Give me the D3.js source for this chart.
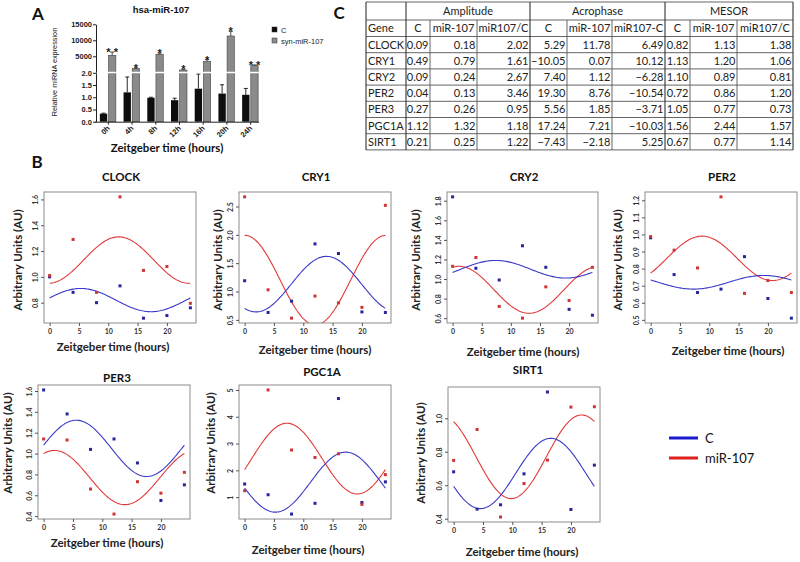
<!DOCTYPE html>
<html><head><meta charset="utf-8">
<script src="https://cdn.jsdelivr.net/npm/d3@7"></script>
<style>body{margin:0;background:#fff} svg{display:block}</style>
</head><body>
<svg id="c" width="800" height="562"></svg>
<script>
// ---------------- Panel A data ----------------
const timeLabels = ['0h','4h','8h','12h','16h','20h','24h'];
const ctrlMean = [0.33, 1.20, 0.98, 0.88, 1.35, 1.15, 1.10];
const ctrlErrTop = [0.35, 1.83, 1.00, 0.96, 1.95, 1.51, 1.36];
const synMean = [5310, 1150, 5620, 720, 3440, 11340, 2090];
const synErrTop = [6340, 1340, 6000, 940, 3970, 12800, 2300];
const sigStars = ['* *', '*', '*', '*', '*', '*', '* *'];
const lowTicks = [0, 0.5, 1.0, 1.5, 2.0];
const highTicks = [5000, 10000, 15000];
const seriesA = ['C', 'syn-miR-107'];

// ---------------- Panel C (table) data ----------------
const genes = ['CLOCK','CRY1','CRY2','PER2','PER3','PGC1A','SIRT1'];
const ampC = [0.09, 0.49, 0.09, 0.04, 0.27, 1.12, 0.21];
const ampMiR = [0.18, 0.79, 0.24, 0.13, 0.26, 1.32, 0.25];
const ampRatio = [2.02, 1.61, 2.67, 3.46, 0.95, 1.18, 1.22];
const acroC = [5.29, -10.05, 7.40, 19.30, 5.56, 17.24, -7.43];
const acroMiR = [11.78, 0.07, 1.12, 8.76, 1.85, 7.21, -2.18];
const acroDiff = [6.49, 10.12, -6.28, -10.54, -3.71, -10.03, 5.25];
const mesorC = [0.82, 1.13, 1.10, 0.72, 1.05, 1.56, 0.67];
const mesorMiR = [1.13, 1.20, 0.89, 0.86, 0.77, 2.44, 0.77];
const mesorRatio = [1.38, 1.06, 0.81, 1.20, 0.73, 1.57, 1.14];
const groupHeads = ['Amplitude', 'Acrophase', 'MESOR'];
const subHeads = ['Gene','C','miR-107','miR107/C','C','miR-107','miR107-C','C','miR-107','miR107/C'];

// ---------------- Panel B data (observed points) ----------------
const zt = [0, 4, 8, 12, 16, 20, 24];
const obsC = [
  [1.00, 0.88, 0.80, 0.93, 0.68, 0.70, 0.76],   // CLOCK
  [1.19, 0.63, 0.83, 1.84, 1.67, 0.64, 0.63],   // CRY1
  [1.84, 1.11, 0.99, 1.34, 1.12, 0.69, 0.63],   // CRY2
  [0.98, 0.765, 0.66, 0.68, 0.87, 0.625, 0.51], // PER2
  [1.61, 1.38, 1.04, 1.14, 0.91, 0.55, 0.70],   // PER3
  [1.49, 1.09, 0.37, 0.77, 4.68, 0.80, 1.57],   // PGC1A
  [0.68, 0.457, 0.483, 0.668, 1.157, 0.455, 0.72] // SIRT1
];
const obsMiR = [
  [1.01, 1.29, 0.88, 1.62, 1.05, 1.08, 0.795],
  [2.67, 1.03, 0.53, 0.92, 0.80, 0.72, 2.52],
  [1.13, 1.22, 0.72, 0.60, 0.92, 0.78, 1.12],
  [0.987, 0.908, 0.804, 1.22, 0.655, 0.73, 0.66],
  [1.14, 1.13, 0.66, 0.42, 0.73, 0.62, 0.82],
  [1.24, 5.00, 2.76, 2.48, 2.62, 0.73, 1.84],
  [0.748, 0.933, 0.41, 0.61, 0.75, 1.067, 1.069]
];
const yTickVals = [
  [0.8, 1.0, 1.2, 1.4, 1.6],
  [0.5, 1.0, 1.5, 2.0, 2.5],
  [0.6, 0.8, 1.0, 1.2, 1.4, 1.6, 1.8],
  [0.5, 0.6, 0.7, 0.8, 0.9, 1.0, 1.1, 1.2],
  [0.4, 0.6, 0.8, 1.0, 1.2, 1.4, 1.6],
  [1, 2, 3, 4, 5],
  [0.4, 0.6, 0.8, 1.0]
];
const yTickFmt = ['.1f','.1f','.1f','.1f','.1f','d','.1f'];
const xTickVals = [0, 5, 10, 15, 20];
const legendLabels = ['C', 'miR-107'];

// ---------------- layout ----------------
const svg = d3.select('#c');
const BLUE_PT = '#25259c', RED_PT = '#cf3535', BLUE_LN = '#3a3ac8', RED_LN = '#e23a3a';
const FONT_B = 'Lato, "Open Sans", sans-serif';
const FONT_A = '"Liberation Sans", Arial, sans-serif';

// Panel letters
[['A', 38, 20], ['B', 37, 168], ['C', 339, 19]].forEach(([t, x, y]) =>
  svg.append('text').attr('x', x).attr('y', y).attr('text-anchor', 'middle')
    .style('font', `bold 17px ${FONT_B}`).attr('fill', '#111').text(t));

// ================= Panel A =================
(function () {
  const g = svg.append('g');
  const x = d3.scalePoint().domain(timeLabels).range([96, 262]).padding(0.5);
  const sub = d3.scaleBand().domain(seriesA).range([-8, 8]).paddingInner(0.15);
  const yLo = d3.scaleLinear().domain([0, 2]).range([121.7, 72.8]);
  const yHi = d3.scaleLinear().domain([0, 15000]).range([72.3, 24.3]);
  const base = yLo(0);

  timeLabels.forEach((t, i) => {
    const cx = x(t);
    const bx = cx + sub('C');
    g.append('rect').attr('x', bx).attr('y', yLo(ctrlMean[i])).attr('width', sub.bandwidth())
      .attr('height', base - yLo(ctrlMean[i])).attr('fill', '#0d0d0d');
    const ex = bx + sub.bandwidth() / 2;
    g.append('line').attr('x1', ex).attr('x2', ex).attr('y1', yLo(ctrlMean[i])).attr('y2', yLo(ctrlErrTop[i])).attr('stroke', '#111').attr('stroke-width', 0.9);
    g.append('line').attr('x1', ex - 2).attr('x2', ex + 2).attr('y1', yLo(ctrlErrTop[i])).attr('y2', yLo(ctrlErrTop[i])).attr('stroke', '#111').attr('stroke-width', 0.9);
    const gx = cx + sub('syn-miR-107');
    g.append('rect').attr('x', gx).attr('y', yHi(synMean[i])).attr('width', sub.bandwidth())
      .attr('height', base - yHi(synMean[i])).attr('fill', '#8a8a8a').attr('stroke', '#444').attr('stroke-width', 0.6);
    const gex = gx + sub.bandwidth() / 2;
    g.append('line').attr('x1', gex).attr('x2', gex).attr('y1', yHi(synMean[i])).attr('y2', yHi(synErrTop[i])).attr('stroke', '#333').attr('stroke-width', 0.9);
    g.append('line').attr('x1', gex - 2).attr('x2', gex + 2).attr('y1', yHi(synErrTop[i])).attr('y2', yHi(synErrTop[i])).attr('stroke', '#333').attr('stroke-width', 0.9);
    g.append('text').attr('x', gex).attr('y', yHi(synErrTop[i]) + 4).attr('text-anchor', 'middle')
      .style('font', `bold 11px ${FONT_A}`).attr('fill', '#222').text(sigStars[i]);
  });

  g.append('line').attr('x1', 92).attr('x2', 262).attr('y1', 72.5).attr('y2', 72.5).attr('stroke', '#fff').attr('stroke-width', 1.4);

  const axL = g.append('g').attr('transform', 'translate(96,0)')
    .call(d3.axisLeft(yLo).tickValues(lowTicks).tickFormat(d3.format('.1f')).tickSize(3).tickSizeOuter(0));
  const axH = g.append('g').attr('transform', 'translate(96,0)')
    .call(d3.axisLeft(yHi).tickValues(highTicks).tickFormat(d3.format('d')).tickSize(3).tickSizeOuter(0));
  [axL, axH].forEach(a => {
    a.selectAll('path').attr('stroke', '#222');
    a.selectAll('line').attr('stroke', '#222');
    a.selectAll('text').style('font', `bold 7.5px ${FONT_A}`).attr('fill', '#222').attr('x', -4);
  });
  const axX = g.append('g').attr('transform', `translate(0,${base})`)
    .call(d3.axisBottom(x).tickSize(3).tickSizeOuter(0));
  axX.select('path').attr('d', `M95,0.5H259`).attr('stroke', '#222');
  axX.selectAll('line').attr('stroke', '#222');
  axX.selectAll('text').attr('text-anchor', 'end').attr('dy', 0).attr('y', 0)
    .attr('transform', 'translate(2,7) rotate(-45)')
    .style('font', `bold 7.5px ${FONT_A}`).attr('fill', '#222');

  g.append('text').attr('x', 161).attr('y', 13).attr('text-anchor', 'middle')
    .style('font', `bold 9.5px ${FONT_A}`).attr('fill', '#111').text('hsa-miR-107');
  g.append('text').attr('transform', 'translate(57,72) rotate(-90)').attr('text-anchor', 'middle')
    .style('font', `7.3px ${FONT_A}`).attr('fill', '#111').text('Relative miRNA expression');
  g.append('text').attr('x', 167).attr('y', 152).attr('text-anchor', 'middle')
    .style('font', `bold 11.5px ${FONT_B}`).attr('fill', '#111').text('Zeitgeber time (hours)');

  const leg = g.append('g');
  seriesA.forEach((s, i) => {
    leg.append('rect').attr('x', 272).attr('y', 27 + i * 11).attr('width', 5).attr('height', 5)
      .attr('fill', i ? '#8a8a8a' : '#0d0d0d').attr('stroke', '#333').attr('stroke-width', 0.5);
    leg.append('text').attr('x', 281).attr('y', 32.5 + i * 11).style('font', `7.5px ${FONT_A}`).attr('fill', '#222').text(s);
  });
})();

// ================= Panel C (table) =================
(function () {
  const g = svg.append('g');
  const colX = [366, 406, 430, 477, 530, 567, 612, 665, 690, 737, 793];
  const rowY = [2, 20, 36.5];
  genes.forEach((d, i) => rowY.push(36.5 + (i + 1) * 16.2));
  const tableCols = [null, ampC, ampMiR, ampRatio, acroC, acroMiR, acroDiff, mesorC, mesorMiR, mesorRatio];
  const fmt = d3.format('.2f');
  const stroke = '#555';
  const FS = `11px ${FONT_B}`;
  const top = rowY[0], bot = rowY[rowY.length - 1];
  rowY.forEach((y, i) => g.append('line').attr('x1', colX[0]).attr('x2', colX[10]).attr('y1', y).attr('y2', y)
    .attr('stroke', stroke).attr('stroke-width', 0.9));
  colX.forEach((x, i) => {
    const groupEdge = [0, 1, 4, 7, 10].includes(i);
    g.append('line').attr('x1', x).attr('x2', x).attr('y1', groupEdge ? top : rowY[1]).attr('y2', bot)
      .attr('stroke', groupEdge ? '#333' : stroke).attr('stroke-width', groupEdge ? 1.1 : 0.9);
  });
  groupHeads.forEach((h, i) => {
    const x0 = colX[1 + i * 3], x1 = colX[4 + i * 3];
    g.append('text').attr('x', (x0 + x1) / 2).attr('y', 15).attr('text-anchor', 'middle')
      .style('font', FS).attr('fill', '#222').text(h);
  });
  subHeads.forEach((h, i) => {
    const t = g.append('text').attr('y', rowY[1] + 12).style('font', FS).attr('fill', '#222').text(h);
    if (i === 0) t.attr('x', colX[0] + 2);
    else t.attr('x', (colX[i] + colX[i + 1]) / 2).attr('text-anchor', 'middle');
  });
  genes.forEach((gname, r) => {
    const y = rowY[2 + r] + 12;
    g.append('text').attr('x', colX[0] + 2).attr('y', y).style('font', FS).attr('fill', '#222').text(gname);
    for (let c = 1; c < 10; c++) {
      g.append('text').attr('x', colX[c + 1] - 1.5).attr('y', y).attr('text-anchor', 'end')
        .style('font', FS).attr('fill', '#222').text(fmt(tableCols[c][r]));
    }
  });
})();

// ================= Panel B =================
const panels = [
  { x0: 44,  x1: 196, y0: 192, y1: 323, tx: 121, ty: 181, lx: 17,  ly: 260, ax: 113, ay: 351 },
  { x0: 239, x1: 391, y0: 192, y1: 323, tx: 316, ty: 181, lx: 217, ly: 260, ax: 315, ay: 354 },
  { x0: 447, x1: 598, y0: 192, y1: 323, tx: 524, ty: 181, lx: 415, ly: 260, ax: 523, ay: 356 },
  { x0: 645, x1: 797, y0: 192, y1: 323, tx: 722, ty: 181, lx: 617, ly: 260, ax: 728, ay: 355 },
  { x0: 38,  x1: 190, y0: 385, y1: 519, tx: 117, ty: 382, lx: 7,   ly: 443, ax: 107, ay: 547 },
  { x0: 239, x1: 391, y0: 385, y1: 519, tx: 322, ty: 376, lx: 210, ly: 443, ax: 308, ay: 554 },
  { x0: 448, x1: 600, y0: 387, y1: 522, tx: 528, ty: 374, lx: 420, ly: 453, ax: 522, ay: 556 }
];
const curveGrid = d3.range(0, 24.001, 0.2);
function cosinor(mesor, amp, acro) {
  return t => mesor + amp * Math.cos(2 * Math.PI * (t - acro) / 24);
}
genes.forEach((gene, i) => {
  const p = panels[i];
  const g = svg.append('g');
  const x = d3.scaleLinear().domain([-0.96, 24.96]).range([p.x0, p.x1]);
  const ext = d3.extent(obsC[i].concat(obsMiR[i]));
  const pad = (ext[1] - ext[0]) * 0.04;
  const y = d3.scaleLinear().domain([ext[0] - pad, ext[1] + pad]).range([p.y1, p.y0]);
  const clipId = 'clip' + i;
  g.append('clipPath').attr('id', clipId).append('rect')
    .attr('x', p.x0).attr('y', p.y0).attr('width', p.x1 - p.x0).attr('height', p.y1 - p.y0);

  const line = d3.line().x(d => x(d[0])).y(d => y(d[1]));
  const fC = cosinor(mesorC[i], ampC[i], acroC[i]);
  const fM = cosinor(mesorMiR[i], ampMiR[i], acroMiR[i]);
  g.append('path').attr('clip-path', `url(#${clipId})`).attr('d', line(curveGrid.map(t => [t, fM(t)])))
    .attr('fill', 'none').attr('stroke', RED_LN).attr('stroke-width', 1.1);
  g.append('path').attr('clip-path', `url(#${clipId})`).attr('d', line(curveGrid.map(t => [t, fC(t)])))
    .attr('fill', 'none').attr('stroke', BLUE_LN).attr('stroke-width', 1.1);

  g.selectAll('.pc').data(zt).join('rect').attr('x', d => x(d) - 1.5).attr('y', (d, k) => y(obsC[i][k]) - 1.5)
    .attr('width', 3).attr('height', 3).attr('fill', BLUE_PT);
  g.selectAll('.pm').data(zt).join('rect').attr('class', 'pm').attr('x', d => x(d) - 1.5).attr('y', (d, k) => y(obsMiR[i][k]) - 1.5)
    .attr('width', 3).attr('height', 3).attr('fill', RED_PT);

  g.append('rect').attr('x', p.x0).attr('y', p.y0).attr('width', p.x1 - p.x0).attr('height', p.y1 - p.y0)
    .attr('fill', 'none').attr('stroke', '#8c8c8c').attr('stroke-width', 1);

  const ax = g.append('g').attr('transform', `translate(0,${p.y1})`)
    .call(d3.axisBottom(x).tickValues(xTickVals).tickFormat(d3.format('d')).tickSize(3).tickSizeOuter(0));
  ax.select('path').remove();
  ax.selectAll('line').attr('stroke', '#555');
  ax.selectAll('text').attr('dy', 0).attr('y', 11).style('font', `bold 7px ${FONT_B}`).attr('fill', '#333');
  const ay = g.append('g').attr('transform', `translate(${p.x0},0)`)
    .call(d3.axisLeft(y).tickValues(yTickVals[i]).tickFormat(d3.format(yTickFmt[i])).tickSize(3).tickSizeOuter(0));
  ay.select('path').remove();
  ay.selectAll('line').attr('stroke', '#555');
  ay.selectAll('text').attr('x', 0).attr('dy', 0)
    .attr('transform', 'translate(-6,0) rotate(-90)').attr('text-anchor', 'middle')
    .style('font', `bold 7px ${FONT_B}`).attr('fill', '#333');

  g.append('text').attr('x', p.tx).attr('y', p.ty).attr('text-anchor', 'middle')
    .style('font', `bold 11.5px ${FONT_B}`).attr('fill', '#111').text(gene);
  g.append('text').attr('transform', `translate(${p.lx + 5},${p.ly}) rotate(-90)`).attr('text-anchor', 'middle')
    .style('font', `bold 11.5px ${FONT_B}`).attr('fill', '#222').text('Arbitrary Units (AU)');
  g.append('text').attr('x', p.ax).attr('y', p.ay).attr('text-anchor', 'middle')
    .style('font', `bold 11.5px ${FONT_B}`).attr('fill', '#222').text('Zeitgeber time (hours)');
});

legendLabels.forEach((l, i) => {
  const yy = 438 + i * 20;
  svg.append('line').attr('x1', 669).attr('x2', 698).attr('y1', yy).attr('y2', yy)
    .attr('stroke', i ? '#e01e1e' : '#1a1ad0').attr('stroke-width', 3);
  svg.append('text').attr('x', 705).attr('y', yy + 4.5).style('font', `13px ${FONT_B}`).attr('fill', '#111').text(l);
});
</script></body></html>
